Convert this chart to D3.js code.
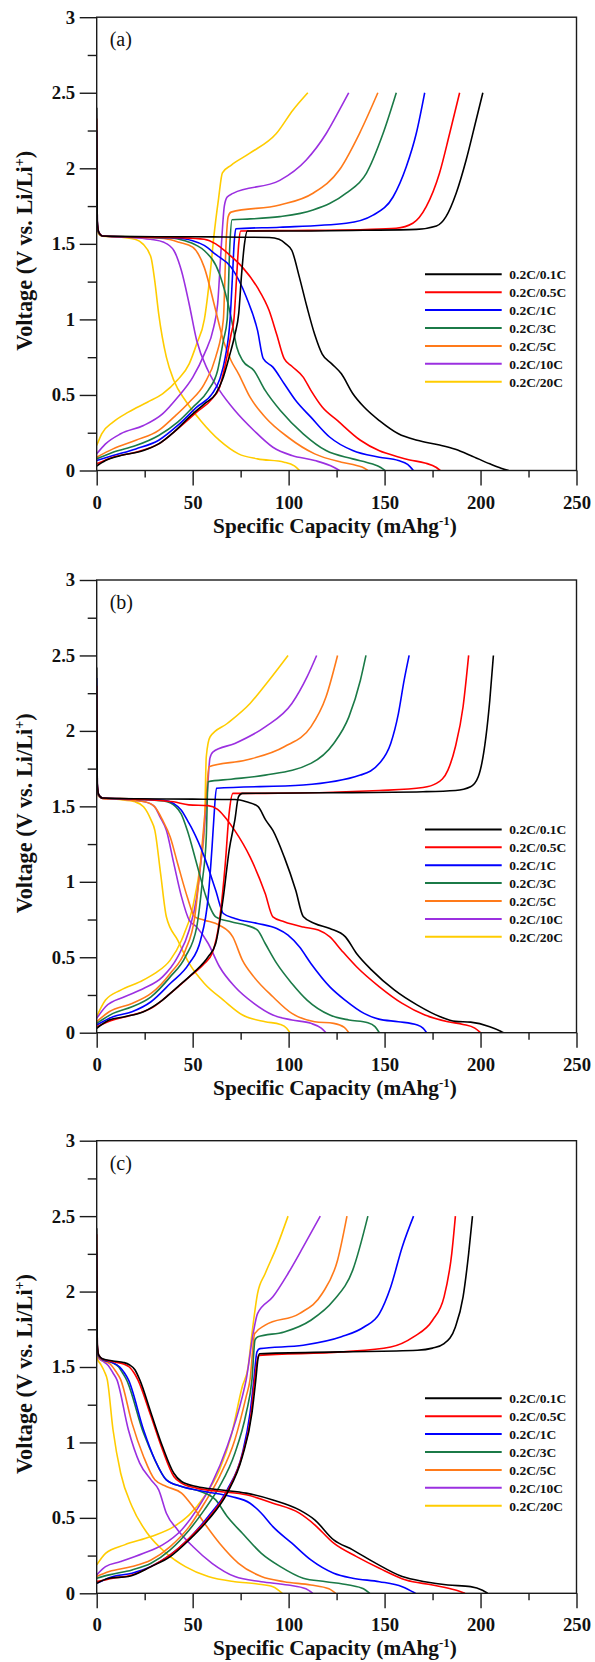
<!DOCTYPE html>
<html><head><meta charset="utf-8">
<script src="https://cdn.jsdelivr.net/npm/d3@7"></script>
<style>html,body{margin:0;padding:0;background:#fff;}svg{display:block;}</style>
</head><body>
<script>
// ---------- DATA ----------
const seriesLabels = ["0.2C/0.1C","0.2C/0.5C","0.2C/1C","0.2C/3C","0.2C/5C","0.2C/10C","0.2C/20C"];
const panelTags = ["(a)","(b)","(c)"];
const xTicks = [0,50,100,150,200,250];
const yTicks = [0,0.5,1,1.5,2,2.5,3];

// Panel (a) discharge curves [capacity, voltage]
const aDischarge = [
 [[0,2.40],[0.3,1.65],[1,1.58],[3,1.552],[20,1.548],[60,1.546],[90,1.542],[95,1.53],[98.5,1.5],[101.7,1.456],[105.6,1.28],[109.6,1.08],[113.6,0.90],[117.5,0.77],[122.5,0.706],[127.5,0.64],[133.4,0.51],[139.3,0.42],[147.3,0.33],[157.2,0.243],[167,0.2],[178,0.17],[186.9,0.14],[194.8,0.10],[204.8,0.044],[210.7,0.015],[214.7,0]],
 [[0,2.33],[0.3,1.65],[1,1.58],[3,1.552],[20,1.546],[45,1.54],[56,1.53],[62,1.50],[68,1.44],[75.9,1.346],[83.8,1.21],[89.8,1.06],[93.8,0.90],[97.7,0.74],[101.7,0.69],[107.6,0.618],[111.6,0.53],[117.5,0.42],[125.5,0.33],[137.4,0.2],[147.3,0.13],[157.2,0.09],[163.1,0.07],[171,0.05],[177,0.02],[179,0]],
 [[0,2.25],[0.3,1.65],[1,1.58],[3,1.552],[20,1.546],[40,1.54],[50,1.52],[56,1.49],[62,1.43],[70,1.346],[78,1.147],[83.8,0.927],[86.8,0.74],[91.8,0.684],[97.7,0.574],[103.7,0.463],[111.6,0.353],[121.5,0.22],[133.4,0.132],[147.3,0.088],[157.2,0.066],[162,0.04],[165,0]],
 [[0,1.99],[0.3,1.63],[1,1.575],[3,1.552],[20,1.546],[38,1.54],[46,1.52],[52,1.49],[56,1.456],[64,1.30],[70,1.015],[73,0.816],[76,0.728],[81.9,0.662],[87.8,0.53],[95.7,0.397],[107.6,0.243],[119.5,0.132],[133.4,0.077],[143.3,0.044],[148,0.02],[150.2,0]],
 [[0,1.85],[0.3,1.62],[1,1.575],[3,1.552],[20,1.545],[35,1.535],[43,1.51],[50,1.478],[56,1.346],[62,1.059],[66,0.86],[70,0.728],[73.9,0.64],[79.9,0.485],[87.8,0.353],[99.7,0.22],[113.6,0.11],[127.5,0.055],[135.4,0.033],[139.5,0.015],[141.3,0]],
 [[0,1.90],[0.3,1.62],[1,1.575],[3,1.552],[15,1.545],[28,1.53],[35,1.51],[40.2,1.456],[44.2,1.32],[48.2,1.10],[52.1,0.86],[58,0.662],[64,0.53],[72,0.397],[81.9,0.265],[91.8,0.154],[101.7,0.099],[113.6,0.066],[123.5,0.022],[126.5,0]],
 [[0,1.83],[0.3,1.6],[1,1.565],[3,1.55],[12,1.545],[20,1.53],[24,1.50],[28.3,1.41],[30.3,1.25],[32.3,1.037],[36.3,0.75],[40.2,0.596],[46.2,0.463],[54.1,0.331],[64,0.199],[73.9,0.11],[83.8,0.077],[97.7,0.055],[103,0.03],[105.7,0]]
];
// Panel (a) charge curves
const aCharge = [
 [[0,0.03],[4.6,0.066],[12.5,0.099],[24.4,0.132],[32.3,0.176],[40.2,0.254],[48.2,0.353],[56.1,0.441],[62,0.507],[65.5,0.6],[69,0.75],[72,0.9],[74,1.04],[75.5,1.3],[77,1.5],[78.5,1.585],[100,1.585],[140,1.59],[166.6,1.596],[177,1.618],[182,1.68],[187.3,1.835],[192.5,2.055],[197.7,2.32],[201.2,2.5]],
 [[0,0.044],[8.5,0.088],[20.4,0.121],[32.3,0.176],[42.2,0.276],[52.1,0.386],[60.1,0.474],[64,0.55],[67,0.7],[70,0.9],[71.5,1.0],[73,1.3],[74,1.5],[75,1.585],[100,1.588],[140,1.595],[156,1.603],[164.7,1.636],[171.7,1.746],[178.6,1.967],[183.9,2.23],[189.1,2.5]],
 [[0,0.066],[8.5,0.099],[20.4,0.143],[32.3,0.2],[42.2,0.298],[52.1,0.419],[60.1,0.507],[64,0.6],[67,0.75],[69.5,1.0],[70.8,1.3],[71.6,1.5],[72.5,1.6],[95.4,1.61],[130,1.636],[144,1.69],[154.4,1.81],[161.3,2.01],[166.5,2.23],[170.9,2.5]],
 [[0,0.077],[8.5,0.121],[20.4,0.165],[32.3,0.232],[42.2,0.32],[50.1,0.419],[58.1,0.53],[63,0.662],[66,0.86],[68,1.0],[69.4,1.5],[70.5,1.66],[80,1.665],[95.4,1.68],[112.7,1.724],[130,1.835],[140.5,1.967],[149.2,2.23],[156.1,2.5]],
 [[0,0.088],[8.5,0.143],[20.4,0.2],[32.3,0.265],[40.2,0.353],[48.2,0.452],[56.1,0.574],[62,0.75],[66,1.0],[67.4,1.5],[68.5,1.68],[70,1.71],[95.4,1.757],[112.7,1.835],[126.5,1.99],[136.9,2.23],[146.5,2.5]],
 [[0,0.11],[4.6,0.176],[12.5,0.243],[24.4,0.298],[34.3,0.375],[42.2,0.485],[50.1,0.618],[56.1,0.772],[61,0.95],[63,1.1],[65,1.5],[66.5,1.75],[68,1.81],[71,1.834],[95.4,1.92],[109.2,2.055],[119.6,2.23],[126.5,2.386],[131.3,2.5]],
 [[0,0.165],[2.6,0.243],[8.5,0.32],[16.5,0.386],[26.4,0.452],[34.3,0.507],[42.2,0.6],[48.2,0.706],[52.1,0.838],[56.1,1.0],[59.1,1.3],[61,1.544],[63.5,1.8],[65.5,1.97],[70,2.02],[79.8,2.1],[93.6,2.23],[102.3,2.386],[110,2.5]]
];
// Panel (b) discharge curves
const bDischarge = [
 [[0,2.42],[0.3,1.65],[1,1.58],[3,1.555],[20,1.55],[50,1.548],[72,1.545],[78,1.53],[84.1,1.498],[88,1.41],[91.8,1.341],[97.7,1.165],[103.7,0.944],[107.6,0.77],[113.6,0.724],[121.5,0.69],[129.6,0.635],[135.4,0.525],[143.3,0.415],[155.2,0.282],[167.1,0.183],[179,0.106],[186.9,0.075],[194.8,0.07],[204.8,0.04],[210.5,0.01],[212,0]],
 [[0,2.30],[0.3,1.65],[1,1.58],[3,1.555],[20,1.548],[40,1.53],[48,1.51],[58,1.505],[63,1.48],[68,1.41],[71.9,1.341],[79.9,1.165],[87.8,0.922],[91.8,0.768],[97.7,0.735],[107.6,0.70],[115.5,0.68],[121.5,0.635],[127.5,0.547],[135.4,0.437],[147.3,0.304],[159.2,0.194],[171,0.117],[183,0.073],[190.9,0.055],[197,0.03],[200,0]],
 [[0,2.35],[0.3,1.65],[1,1.58],[3,1.555],[20,1.548],[35,1.54],[40,1.52],[44,1.476],[48,1.39],[50.1,1.341],[56.1,1.165],[62,0.944],[66,0.79],[72,0.757],[83.8,0.724],[93.8,0.69],[99.7,0.646],[105.6,0.569],[111.6,0.459],[121.5,0.304],[129.4,0.216],[139.3,0.128],[147,0.09],[157.2,0.073],[167.1,0.051],[170,0.03],[171.9,0]],
 [[0,2.0],[0.3,1.63],[1,1.575],[3,1.555],[20,1.548],[35,1.535],[41,1.5],[44,1.45],[47.2,1.341],[52.1,1.12],[57,0.9],[62,0.768],[70,0.735],[77.9,0.712],[83.8,0.68],[87.8,0.591],[93.8,0.459],[101.7,0.326],[109.6,0.216],[121.5,0.117],[131.4,0.084],[141.3,0.066],[145,0.04],[147.3,0]],
 [[0,1.95],[0.3,1.62],[1,1.575],[3,1.553],[15,1.545],[25,1.53],[30,1.5],[34.3,1.41],[38.3,1.297],[42.2,1.12],[47.2,0.9],[51.1,0.768],[56.1,0.746],[64,0.712],[70.9,0.635],[75.9,0.481],[81.9,0.37],[91.8,0.238],[101.7,0.128],[113.6,0.073],[123.5,0.062],[129,0.035],[131.4,0]],
 [[0,1.82],[0.3,1.62],[1,1.57],[3,1.553],[15,1.545],[25,1.53],[30,1.5],[33,1.43],[36.3,1.341],[40.2,1.12],[44.2,0.9],[48.2,0.746],[52.1,0.70],[58.1,0.591],[64,0.437],[72,0.304],[81.9,0.194],[91.8,0.117],[101.7,0.084],[111.6,0.062],[117,0.03],[119.5,0]],
 [[0,1.75],[0.3,1.6],[1,1.565],[3,1.553],[12,1.545],[20,1.53],[24.4,1.498],[28.3,1.41],[30.3,1.341],[33.3,1.054],[36.3,0.768],[42.2,0.613],[48.2,0.459],[56.1,0.326],[66,0.216],[76,0.117],[87.8,0.073],[95.7,0.055],[99,0.03],[100.7,0]]
];
// Panel (b) charge curves
const bCharge = [
 [[0,0.029],[6.5,0.084],[14.5,0.106],[24.4,0.139],[34.3,0.216],[42.2,0.304],[50.1,0.393],[58.1,0.503],[62,0.591],[66,0.9],[69,1.209],[72,1.41],[73.9,1.564],[75.9,1.586],[120,1.59],[170,1.597],[186.9,1.605],[194.8,1.63],[198.8,1.696],[202.8,1.96],[204.8,2.2],[206.7,2.5]],
 [[0,0.04],[8.5,0.084],[18.4,0.117],[28.3,0.161],[38.3,0.26],[48.2,0.37],[56.1,0.459],[60.1,0.525],[64,0.746],[67,1.12],[69,1.454],[71,1.586],[87.8,1.586],[147.3,1.605],[170,1.625],[177,1.652],[183,1.74],[186.9,1.895],[190.9,2.16],[193.8,2.5]],
 [[0,0.051],[8.5,0.106],[18.4,0.139],[28.3,0.205],[38.3,0.326],[48.2,0.459],[54.1,0.613],[58.1,0.9],[60.1,1.23],[61,1.41],[62.4,1.62],[107.6,1.641],[137.4,1.707],[147.3,1.785],[153.2,1.917],[157.2,2.115],[160.2,2.336],[162.8,2.5]],
 [[0,0.062],[8.5,0.128],[18.4,0.172],[28.3,0.238],[38.3,0.37],[46.2,0.503],[52.1,0.70],[55.1,1.01],[57.1,1.297],[58,1.663],[70,1.68],[87.8,1.707],[111.6,1.785],[123.5,1.917],[131.4,2.093],[137.4,2.336],[140.3,2.5]],
 [[0,0.073],[6.5,0.139],[18.4,0.194],[28.3,0.26],[38.3,0.393],[46.2,0.547],[51.1,0.768],[54.1,1.12],[57.1,1.564],[58.5,1.763],[77.9,1.807],[97.7,1.895],[111.6,2.027],[119.5,2.226],[125.5,2.5]],
 [[0,0.095],[4.6,0.172],[14.5,0.238],[24.4,0.293],[34.3,0.37],[42.2,0.503],[48.2,0.68],[52.1,0.9],[55.1,1.23],[57.7,1.608],[59,1.82],[60.5,1.86],[72,1.917],[87.8,2.027],[101.7,2.182],[109.6,2.358],[114.6,2.5]],
 [[0,0.106],[4.6,0.216],[12.5,0.282],[22.4,0.337],[30.3,0.393],[38.3,0.481],[44.2,0.613],[50.1,0.834],[54.1,1.12],[56.1,1.341],[57.1,1.829],[59.1,1.961],[68,2.049],[79.9,2.182],[89.8,2.336],[99.7,2.5]]
];
// Panel (c) discharge curves
const cDischarge = [
 [[0,2.42],[0.3,1.65],[1,1.58],[3,1.555],[8.5,1.54],[14,1.53],[17,1.515],[20,1.48],[22.4,1.416],[28.3,1.195],[34.3,0.973],[40.2,0.796],[44.2,0.741],[52.1,0.708],[64,0.686],[77.9,0.664],[91.8,0.619],[105.6,0.553],[113.6,0.487],[123.5,0.354],[133.4,0.288],[145.3,0.2],[159.2,0.111],[171,0.077],[183,0.055],[194.8,0.044],[201,0.02],[203.7,0]],
 [[0,2.38],[0.3,1.65],[1,1.58],[3,1.552],[8.5,1.535],[14,1.52],[17,1.5],[19.5,1.46],[21.4,1.416],[28.3,1.173],[34.3,0.951],[40.2,0.774],[44.2,0.73],[52.1,0.697],[64,0.675],[77.9,0.653],[91.8,0.597],[105.6,0.531],[113.6,0.454],[123.5,0.332],[135.4,0.243],[147.3,0.166],[161.1,0.088],[175,0.055],[186.9,0.022],[191.9,0]],
 [[0,2.26],[0.3,1.64],[1,1.575],[3,1.55],[8,1.53],[12,1.5],[14.5,1.46],[16.5,1.416],[24.4,1.084],[30.3,0.885],[36.3,0.752],[44.2,0.708],[56.1,0.675],[70,0.642],[79.9,0.597],[85.8,0.531],[91.8,0.442],[101.7,0.332],[111.6,0.221],[123.5,0.133],[133.4,0.1],[147.3,0.077],[159.2,0.044],[166.1,0]],
 [[0,2.1],[0.3,1.63],[1,1.57],[3,1.55],[8,1.53],[11.5,1.5],[13.5,1.46],[15.5,1.416],[24.4,1.062],[30.3,0.885],[36.3,0.752],[44.2,0.708],[54.1,0.675],[62,0.619],[68,0.509],[75.9,0.398],[85.8,0.265],[95.7,0.177],[107.6,0.1],[119.5,0.077],[131.4,0.055],[139,0.03],[142.3,0]],
 [[0,1.98],[0.3,1.62],[1,1.565],[3,1.545],[7,1.52],[10,1.47],[12.5,1.416],[18.4,1.128],[24.4,0.907],[30.3,0.752],[36.3,0.708],[44.2,0.664],[50.1,0.575],[56.1,0.465],[64,0.332],[73.9,0.199],[85.8,0.111],[97.7,0.077],[111.6,0.055],[121,0.03],[124.5,0]],
 [[0,1.85],[0.3,1.6],[1,1.56],[3,1.54],[6,1.51],[8.5,1.46],[10.5,1.416],[16.5,1.084],[22.4,0.863],[28.3,0.752],[32.3,0.686],[36.3,0.531],[42.2,0.42],[50.1,0.31],[60.1,0.199],[72,0.111],[85.8,0.077],[99.7,0.055],[109,0.03],[112.6,0]],
 [[0,1.6],[0.5,1.55],[2,1.52],[4,1.47],[5.5,1.416],[8.5,1.084],[12.5,0.796],[18.4,0.575],[26.4,0.398],[36.3,0.265],[46.2,0.177],[58.1,0.111],[72,0.077],[83.8,0.062],[91.8,0.044],[96.7,0]]
];
// Panel (c) charge curves
const cCharge = [
 [[0,0.066],[6.5,0.1],[16.5,0.111],[28.3,0.177],[38.3,0.243],[48.2,0.354],[58.1,0.487],[68,0.664],[75.9,0.907],[80.9,1.195],[82.9,1.416],[84,1.55],[84.8,1.588],[127.5,1.6],[167.1,1.611],[175,1.625],[181,1.655],[186.9,1.765],[190.9,1.965],[193.8,2.252],[195.8,2.5]],
 [[0,0.077],[8.5,0.1],[18.4,0.122],[28.3,0.177],[38.3,0.254],[48.2,0.365],[58.1,0.498],[68,0.675],[75.9,0.918],[80.5,1.195],[82.3,1.416],[84.4,1.577],[127.5,1.6],[153.2,1.633],[165.1,1.7],[175,1.81],[181,1.965],[185,2.252],[186.9,2.5]],
 [[0,0.066],[8.5,0.111],[18.4,0.133],[28.3,0.177],[38.3,0.254],[48.2,0.365],[58.1,0.509],[68,0.686],[75.9,0.929],[79.9,1.195],[81.9,1.416],[83.5,1.6],[85,1.622],[107.6,1.644],[127.5,1.7],[139.3,1.765],[147.3,1.854],[153.2,2.031],[159.2,2.296],[165.1,2.5]],
 [[0,0.1],[6.5,0.122],[18.4,0.155],[28.3,0.199],[38.3,0.288],[48.2,0.42],[56.1,0.553],[64,0.708],[72,0.929],[77.9,1.195],[80.9,1.416],[82.5,1.68],[84,1.7],[97.7,1.732],[111.6,1.81],[123.5,1.942],[133.4,2.142],[141.3,2.5]],
 [[0,0.111],[6.5,0.144],[18.4,0.177],[28.3,0.221],[38.3,0.31],[48.2,0.442],[56.1,0.597],[64,0.774],[72,1.018],[77.9,1.305],[79.9,1.416],[82.3,1.721],[87.8,1.777],[105.6,1.854],[117.5,1.987],[125.5,2.208],[130.4,2.5]],
 [[0,0.122],[4.6,0.177],[12.5,0.21],[24.4,0.265],[34.3,0.321],[44.2,0.42],[52.1,0.553],[60.1,0.73],[68,0.973],[75.9,1.305],[77.9,1.416],[81.5,1.721],[83.8,1.854],[91.8,1.965],[99.7,2.12],[107.6,2.296],[116.5,2.5]],
 [[0,0.188],[4.6,0.265],[14.5,0.321],[28.3,0.376],[40.2,0.442],[48.2,0.52],[56.1,0.642],[64,0.819],[70,1.04],[75.9,1.372],[78.9,1.5],[80.9,1.721],[83.8,1.987],[87.8,2.12],[93.8,2.296],[99.7,2.5]]
];

// ---------- STYLE / LAYOUT ----------
const colors = ["#000000","#ff0000","#0000ff","#1b7a47","#ff7a1a","#9b30e0","#ffcc00"];
const W = 595, H = 1662;

// pick an installed serif font (Times-like)
function pickFont(cands) {
  const c = document.createElement("canvas").getContext("2d");
  const s = "Specific Capacity 0.2C/0.1C Voltage";
  for (const base of ["monospace", "sans-serif"]) {
    c.font = "bold 40px " + base; const w0 = c.measureText(s).width;
    for (const f of cands) {
      c.font = `bold 40px '${f}', ${base}`;
      if (Math.abs(c.measureText(s).width - w0) > 0.5) return `'${f}'`;
    }
  }
  return "serif";
}
const FONT = pickFont(["Liberation Serif","Tinos","Times New Roman","Nimbus Roman","Nimbus Roman No9 L","Noto Serif","DejaVu Serif"]) + ", serif";

const panels = [
  {tag: panelTags[0], top: 17.2,  bottom: 470.5,  dis: aDischarge, chg: aCharge, legendY: 274.3},
  {tag: panelTags[1], top: 580.0, bottom: 1032.7, dis: bDischarge, chg: bCharge, legendY: 829.4},
  {tag: panelTags[2], top: 1140.7,bottom: 1593.3, dis: cDischarge, chg: cCharge, legendY: 1398.3}
];
const xL = 96.7, xR = 576.5;

const svg = d3.select("body").append("svg").attr("width", W).attr("height", H)
  .attr("font-family", FONT);

const x = d3.scaleLinear().domain([0,250]).range([xL, xR]);

panels.forEach((p, pi) => {
  const y = d3.scaleLinear().domain([0,3]).range([p.bottom, p.top]);
  const g = svg.append("g");

  const line = d3.line().x(d => x(d[0])).y(d => y(d[1])).curve(d3.curveMonotoneX);

  const clipId = "clip" + pi;
  g.append("clipPath").attr("id", clipId).append("rect")
    .attr("x", xL).attr("y", p.top).attr("width", xR - xL).attr("height", p.bottom - p.top);

  const curves = g.append("g").attr("clip-path", `url(#${clipId})`);
  for (let i = seriesLabels.length - 1; i >= 0; i--) {
    [p.dis[i], p.chg[i]].forEach(arr => {
      curves.append("path").datum(arr).attr("d", line)
        .attr("fill", "none").attr("stroke", colors[i])
        .attr("stroke-width", 1.6).attr("stroke-linejoin", "round");
    });
  }

  // Frame
  g.append("rect").attr("x", xL).attr("y", p.top).attr("width", xR - xL).attr("height", p.bottom - p.top)
    .attr("fill", "none").attr("stroke", "#1a1a1a").attr("stroke-width", 1.4);

  // X axis (bottom)
  const xAxis = d3.axisBottom(x).tickValues(xTicks).tickSize(15).tickPadding(8).tickFormat(d3.format("d"));
  const gx = g.append("g").attr("transform", `translate(0,${p.bottom})`).call(xAxis).attr("font-family", FONT);
  gx.select(".domain").remove();
  gx.selectAll(".tick line").attr("stroke", "#1a1a1a").attr("stroke-width", 1.4);
  gx.selectAll(".tick text").attr("font-family", FONT).attr("font-size", 18.7)
    .attr("font-weight", "bold").attr("fill", "#111").attr("dy", null).attr("y", 38);
  const xMinor = d3.axisBottom(x).tickValues(d3.range(25, 250, 50)).tickSize(7).tickFormat("");
  const gxm = g.append("g").attr("transform", `translate(0,${p.bottom})`).call(xMinor);
  gxm.select(".domain").remove();
  gxm.selectAll(".tick line").attr("stroke", "#1a1a1a").attr("stroke-width", 1.4);

  // Y axis (left)
  const yAxis = d3.axisLeft(y).tickValues(yTicks).tickSize(17).tickPadding(4).tickFormat(d => String(d));
  const gy = g.append("g").attr("transform", `translate(${xL},0)`).call(yAxis).attr("font-family", FONT);
  gy.select(".domain").remove();
  gy.selectAll(".tick line").attr("stroke", "#1a1a1a").attr("stroke-width", 1.4);
  gy.selectAll(".tick text").attr("font-family", FONT).attr("font-size", 18.7)
    .attr("font-weight", "bold").attr("fill", "#111").attr("x", -21.5);
  const yMinor = d3.axisLeft(y).tickValues(d3.range(0.25, 3, 0.5)).tickSize(9).tickFormat("");
  const gym = g.append("g").attr("transform", `translate(${xL},0)`).call(yMinor);
  gym.select(".domain").remove();
  gym.selectAll(".tick line").attr("stroke", "#1a1a1a").attr("stroke-width", 1.4);

  // Panel tag
  g.append("text").attr("x", xL + 13).attr("y", p.top + 29).attr("font-family", FONT)
    .attr("font-size", 20).attr("fill", "#111").text(p.tag);

  // X title
  const xt = g.append("text").attr("x", 335).attr("y", p.bottom + 62).attr("font-family", FONT)
    .attr("text-anchor", "middle").attr("font-size", 21.3).attr("font-weight", "bold").attr("fill", "#111");
  xt.append("tspan").text("Specific Capacity (mAhg");
  xt.append("tspan").attr("font-size", 13).attr("dy", -8).text("-1");
  xt.append("tspan").attr("dy", 8).text(")");

  // Y title
  const cy = (p.top + p.bottom) / 2 + 7;
  const yt = g.append("text").attr("transform", `translate(31.5,${cy}) rotate(-90)`).attr("font-family", FONT)
    .attr("text-anchor", "middle").attr("font-size", 22.3).attr("font-weight", "bold").attr("fill", "#111");
  yt.append("tspan").text("Voltage (V vs. Li/Li");
  yt.append("tspan").attr("font-size", 14).attr("dy", -8).text("+");
  yt.append("tspan").attr("dy", 8).text(")");

  // Legend
  const lg = g.append("g");
  seriesLabels.forEach((lab, i) => {
    const ly = p.legendY + i * 17.9;
    lg.append("line").attr("x1", 425).attr("x2", 501.7).attr("y1", ly).attr("y2", ly)
      .attr("stroke", colors[i]).attr("stroke-width", 2);
    lg.append("text").attr("x", 509.3).attr("y", ly + 4.8).attr("font-family", FONT)
      .attr("font-size", 13.5).attr("font-weight", "bold").attr("fill", "#111").text(lab);
  });
});
</script>
</body></html>
